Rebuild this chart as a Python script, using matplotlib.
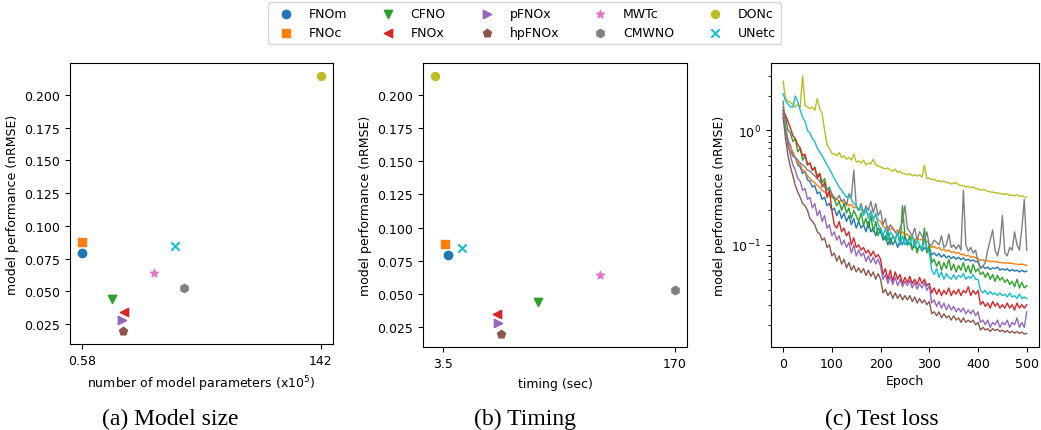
import matplotlib
matplotlib.use("Agg")
import matplotlib.pyplot as plt

models = ["FNOm", "FNOc", "CFNO", "FNOx", "pFNOx", "hpFNOx", "MWTc", "CMWNO", "DONc", "UNetc"]
markers = ["o", "s", "v", "<", ">", "p", "*", "h", "8", "x"]

# number of model parameters (x10^5)
params = [0.58, 0.45, 18.2, 25.1, 24.4, 24.9, 42.9, 60.8, 142, 55.8]
# timing (sec)
timing = [7.1, 4.9, 71.5, 42.6, 43.3, 45.2, 116.6, 170, -2.0, 17.4]
# model performance (nRMSE)
nrmse = [0.0792, 0.0873, 0.0438, 0.0344, 0.0277, 0.0194, 0.0639, 0.0527, 0.2147, 0.0842]

# test loss, every 5 epochs
epochs = list(range(0, 501, 5))
loss_FNOm = [1.5, 1.05, 0.82, 0.74, 0.6, 0.58, 0.5, 0.48, 0.42, 0.44, 0.37,
             0.36, 0.32, 0.33, 0.28, 0.29, 0.25, 0.26, 0.22, 0.23, 0.2,
             0.21, 0.18, 0.2, 0.17, 0.19, 0.16, 0.18, 0.15, 0.17, 0.14,
             0.16, 0.14, 0.15, 0.13, 0.16, 0.13, 0.14, 0.12, 0.14, 0.13,
             0.11, 0.12, 0.1, 0.115, 0.1, 0.11, 0.095, 0.11, 0.1, 0.12,
             0.1, 0.105, 0.092, 0.1, 0.09, 0.098, 0.088, 0.095, 0.09, 0.092,
             0.082, 0.085, 0.08, 0.084, 0.078, 0.082, 0.077, 0.08, 0.076, 0.079,
             0.075, 0.078, 0.074, 0.077, 0.073, 0.075, 0.072, 0.074, 0.071, 0.072,
             0.063, 0.065, 0.062, 0.064, 0.061, 0.063, 0.062, 0.064, 0.06, 0.062,
             0.06, 0.062, 0.059, 0.061, 0.059, 0.06, 0.058, 0.06, 0.058, 0.059]
loss_FNOc = [1.4, 1.0, 0.8, 0.72, 0.65, 0.58, 0.52, 0.5, 0.45, 0.44, 0.4,
             0.38, 0.36, 0.35, 0.33, 0.32, 0.3, 0.29, 0.28, 0.27, 0.26,
             0.255, 0.25, 0.24, 0.245, 0.23, 0.235, 0.22, 0.225, 0.21, 0.215,
             0.2, 0.205, 0.19, 0.195, 0.185, 0.19, 0.175, 0.18, 0.165, 0.16,
             0.145, 0.14, 0.145, 0.135, 0.14, 0.13, 0.135, 0.125, 0.13, 0.12,
             0.125, 0.115, 0.12, 0.11, 0.115, 0.11, 0.112, 0.105, 0.108, 0.1,
             0.095, 0.097, 0.093, 0.095, 0.09, 0.092, 0.088, 0.09, 0.086, 0.087,
             0.084, 0.086, 0.082, 0.083, 0.08, 0.081, 0.078, 0.079, 0.077, 0.076,
             0.073, 0.074, 0.072, 0.073, 0.071, 0.072, 0.071, 0.071, 0.07, 0.07,
             0.069, 0.07, 0.069, 0.069, 0.068, 0.068, 0.067, 0.068, 0.067, 0.066]
loss_CFNO = [1.6, 1.3, 1.0, 0.95, 0.8, 0.85, 0.65, 0.7, 0.55, 0.6, 0.5,
             0.52, 0.45, 0.48, 0.4, 0.42, 0.35, 0.38, 0.3, 0.32, 0.27,
             0.25, 0.22, 0.24, 0.2, 0.23, 0.19, 0.21, 0.17, 0.2, 0.18,
             0.16, 0.19, 0.15, 0.17, 0.14, 0.18, 0.13, 0.16, 0.12, 0.14,
             0.12, 0.11, 0.13, 0.1, 0.12, 0.11, 0.13, 0.1, 0.22, 0.12,
             0.1, 0.12, 0.09, 0.11, 0.085, 0.1, 0.09, 0.14, 0.085, 0.1,
             0.07, 0.075, 0.065, 0.072, 0.06, 0.07, 0.062, 0.075, 0.06, 0.068,
             0.058, 0.066, 0.06, 0.07, 0.058, 0.066, 0.056, 0.068, 0.058, 0.062,
             0.055, 0.058, 0.052, 0.057, 0.05, 0.055, 0.048, 0.054, 0.049, 0.052,
             0.047, 0.05, 0.045, 0.048, 0.043, 0.05, 0.042, 0.047, 0.042, 0.044]
loss_FNOx = [1.5, 1.35, 1.2, 1.05, 0.9, 0.85, 0.75, 0.7, 0.6, 0.62, 0.5,
             0.52, 0.45, 0.47, 0.38, 0.42, 0.32, 0.35, 0.26, 0.3, 0.2,
             0.15, 0.14, 0.16, 0.13, 0.14, 0.12, 0.13, 0.1, 0.115, 0.095,
             0.1, 0.09, 0.095, 0.085, 0.09, 0.08, 0.088, 0.078, 0.082, 0.075,
             0.055, 0.062, 0.05, 0.06, 0.048, 0.058, 0.05, 0.055, 0.046, 0.052,
             0.047, 0.053, 0.046, 0.05, 0.045, 0.052, 0.046, 0.05, 0.044, 0.046,
             0.038, 0.042, 0.037, 0.041, 0.036, 0.04, 0.037, 0.042, 0.036, 0.04,
             0.037, 0.041, 0.036, 0.04, 0.038, 0.043, 0.036, 0.04, 0.037, 0.04,
             0.03, 0.032, 0.029, 0.031, 0.028, 0.032, 0.029, 0.031, 0.028, 0.03,
             0.028, 0.031, 0.028, 0.03, 0.027, 0.031, 0.028, 0.03, 0.028, 0.03]
loss_pFNOx = [1.4, 1.0, 0.8, 0.6, 0.5, 0.45, 0.38, 0.36, 0.3, 0.31, 0.25,
              0.26, 0.21, 0.23, 0.18, 0.2, 0.16, 0.18, 0.14, 0.15, 0.12,
              0.13, 0.11, 0.12, 0.1, 0.11, 0.095, 0.105, 0.085, 0.1, 0.08,
              0.09, 0.08, 0.085, 0.072, 0.08, 0.07, 0.078, 0.068, 0.075, 0.065,
              0.05, 0.055, 0.046, 0.053, 0.045, 0.052, 0.044, 0.05, 0.043, 0.048,
              0.044, 0.049, 0.042, 0.047, 0.041, 0.046, 0.042, 0.047, 0.04, 0.044,
              0.031, 0.033, 0.029, 0.032, 0.028, 0.031, 0.027, 0.03, 0.027, 0.029,
              0.026, 0.028, 0.026, 0.028, 0.025, 0.027, 0.025, 0.027, 0.024, 0.026,
              0.021, 0.022, 0.02, 0.022, 0.019, 0.021, 0.02, 0.022, 0.019, 0.021,
              0.02, 0.022, 0.019, 0.021, 0.02, 0.023, 0.019, 0.021, 0.019, 0.026]
loss_hpFNOx = [1.3, 0.85, 0.6, 0.48, 0.4, 0.33, 0.29, 0.26, 0.23, 0.22, 0.2,
               0.17, 0.16, 0.15, 0.13, 0.125, 0.11, 0.115, 0.095, 0.1, 0.08,
               0.085, 0.072, 0.08, 0.068, 0.075, 0.063, 0.07, 0.06, 0.066, 0.058,
               0.063, 0.057, 0.062, 0.054, 0.06, 0.053, 0.058, 0.05, 0.056, 0.05,
               0.038, 0.041, 0.036, 0.039, 0.034, 0.038, 0.034, 0.037, 0.033, 0.036,
               0.033, 0.036, 0.032, 0.035, 0.031, 0.034, 0.031, 0.033, 0.03, 0.032,
               0.025, 0.026, 0.024, 0.026, 0.023, 0.025, 0.023, 0.024, 0.022, 0.024,
               0.022, 0.023, 0.021, 0.023, 0.021, 0.022, 0.021, 0.022, 0.02, 0.021,
               0.018, 0.019, 0.018, 0.0185, 0.0175, 0.0185, 0.0178, 0.0183, 0.0175, 0.018,
               0.0172, 0.0178, 0.017, 0.0176, 0.0169, 0.0175, 0.0168, 0.0173, 0.0166, 0.0168]
loss_CMWNO = [1.8, 1.0, 0.7, 0.65, 0.6, 0.58, 0.55, 0.52, 0.5, 0.48, 0.45,
              0.44, 0.42, 0.4, 0.38, 0.36, 0.33, 0.32, 0.3, 0.31, 0.28,
              0.26, 0.25, 0.27, 0.24, 0.25, 0.22, 0.28, 0.26, 0.45, 0.22,
              0.2, 0.23, 0.19, 0.22, 0.2, 0.24, 0.19, 0.23, 0.18, 0.2,
              0.15, 0.17, 0.13, 0.15, 0.14, 0.13, 0.12, 0.14, 0.16, 0.22,
              0.14, 0.13, 0.12, 0.14, 0.11, 0.13, 0.12, 0.11, 0.13, 0.1,
              0.1, 0.11, 0.105, 0.1, 0.12, 0.095, 0.1, 0.125, 0.095, 0.1,
              0.092, 0.1, 0.09, 0.3, 0.1, 0.088, 0.095, 0.085, 0.09, 0.07,
              0.062, 0.065, 0.07, 0.09, 0.11, 0.135, 0.09, 0.08, 0.1, 0.18,
              0.085, 0.08, 0.095, 0.09, 0.13, 0.1, 0.09, 0.14, 0.25, 0.09]
loss_DONc = [2.7, 1.9, 1.8, 1.75, 1.7, 1.6, 1.7, 1.6, 3.0, 1.65, 1.6,
             1.55, 1.6, 1.5, 1.9, 1.55, 1.4, 1.0, 0.75, 0.7, 0.63,
             0.62, 0.6, 0.64, 0.58, 0.6, 0.56, 0.58, 0.55, 0.62, 0.53,
             0.54, 0.52, 0.55, 0.5, 0.52, 0.51, 0.56, 0.5, 0.49, 0.48,
             0.47, 0.46, 0.47, 0.45, 0.44, 0.46, 0.43, 0.44, 0.42, 0.42,
             0.41, 0.42, 0.4, 0.41, 0.4, 0.41, 0.39, 0.5, 0.38, 0.385,
             0.37, 0.375, 0.36, 0.365, 0.355, 0.36, 0.35, 0.35, 0.34, 0.345,
             0.35, 0.335, 0.33, 0.33, 0.32, 0.325, 0.315, 0.32, 0.31, 0.31,
             0.3, 0.305, 0.3, 0.295, 0.29, 0.29, 0.285, 0.285, 0.28, 0.28,
             0.275, 0.28, 0.27, 0.272, 0.268, 0.275, 0.265, 0.268, 0.262, 0.26]
loss_UNetc = [2.1, 1.8, 1.7, 1.6, 1.6, 2.0, 1.8, 1.5, 1.3, 1.2, 1.0,
              0.95, 0.85, 0.8, 0.7, 0.65, 0.6, 0.55, 0.5, 0.46, 0.42,
              0.38, 0.35, 0.32, 0.3, 0.28, 0.26, 0.27, 0.25, 0.23, 0.22,
              0.2, 0.22, 0.18, 0.21, 0.17, 0.2, 0.16, 0.19, 0.15, 0.14,
              0.12, 0.14, 0.11, 0.13, 0.12, 0.11, 0.13, 0.1, 0.12, 0.1,
              0.11, 0.1, 0.12, 0.095, 0.11, 0.1, 0.09, 0.11, 0.095, 0.085,
              0.06, 0.055, 0.062, 0.052, 0.058, 0.05, 0.056, 0.052, 0.05, 0.055,
              0.05, 0.054, 0.052, 0.056, 0.05, 0.053, 0.051, 0.055, 0.05, 0.05,
              0.04, 0.038, 0.04, 0.037, 0.039, 0.037, 0.038, 0.036, 0.038, 0.036,
              0.037, 0.035, 0.038, 0.035, 0.036, 0.034, 0.037, 0.034, 0.035, 0.034]

loss_curves = {
    "FNOm": loss_FNOm, "FNOc": loss_FNOc, "CFNO": loss_CFNO, "FNOx": loss_FNOx,
    "pFNOx": loss_pFNOx, "hpFNOx": loss_hpFNOx, "CMWNO": loss_CMWNO,
    "DONc": loss_DONc, "UNetc": loss_UNetc,
}

colors = {m: f"C{i}" for i, m in enumerate(models)}

plt.rcParams['font.size'] = 9

fig = plt.figure(figsize=(10.41, 4.31), dpi=100)
ax1 = fig.add_axes([0.0672, 0.1995, 0.2526, 0.652])
ax2 = fig.add_axes([0.4063, 0.1926, 0.2536, 0.659])
ax3 = fig.add_axes([0.7406, 0.1926, 0.2574, 0.659])

for i, m in enumerate(models):
    ax1.scatter(params[i], nrmse[i], marker=markers[i], color=colors[m], s=36, label=m)
    ax2.scatter(timing[i], nrmse[i], marker=markers[i], color=colors[m], s=36, label=m)

ax1.set_xticks([0.58, 142])
ax1.set_xticklabels(["0.58", "142"])
ax1.set_xlabel(r"number of model parameters (x10$^5$)", labelpad=5)
ax1.set_ylabel("model performance (nRMSE)")

ax2.set_xticks([3.5, 170])
ax2.set_xticklabels(["3.5", "170"])
ax2.set_xlabel("timing (sec)", labelpad=5)
ax2.set_ylabel("model performance (nRMSE)")

for m, vals in loss_curves.items():
    ax3.plot(epochs, vals, color=colors[m], lw=1.0)
ax3.set_yscale("log")
ax3.set_xticks([0, 100, 200, 300, 400, 500])
ax3.set_xlabel("Epoch", labelpad=3)
ax3.set_ylabel("model performance (nRMSE)")

handles, lbls = ax1.get_legend_handles_labels()
fig.legend(handles, lbls, loc="upper center", ncol=5, bbox_to_anchor=(0.504, 0.993),
           borderaxespad=0, fontsize=9, columnspacing=2.3)

serif = ["Liberation Serif", "DejaVu Serif"]
fig.text(0.1634, 0.014, "(a) Model size", ha="center", va="baseline", fontsize=17, family=serif)
fig.text(0.5043, 0.014, "(b) Timing", ha="center", va="baseline", fontsize=17, family=serif)
fig.text(0.847, 0.014, "(c) Test loss", ha="center", va="baseline", fontsize=17, family=serif)

fig.savefig("out.png", dpi=100)
